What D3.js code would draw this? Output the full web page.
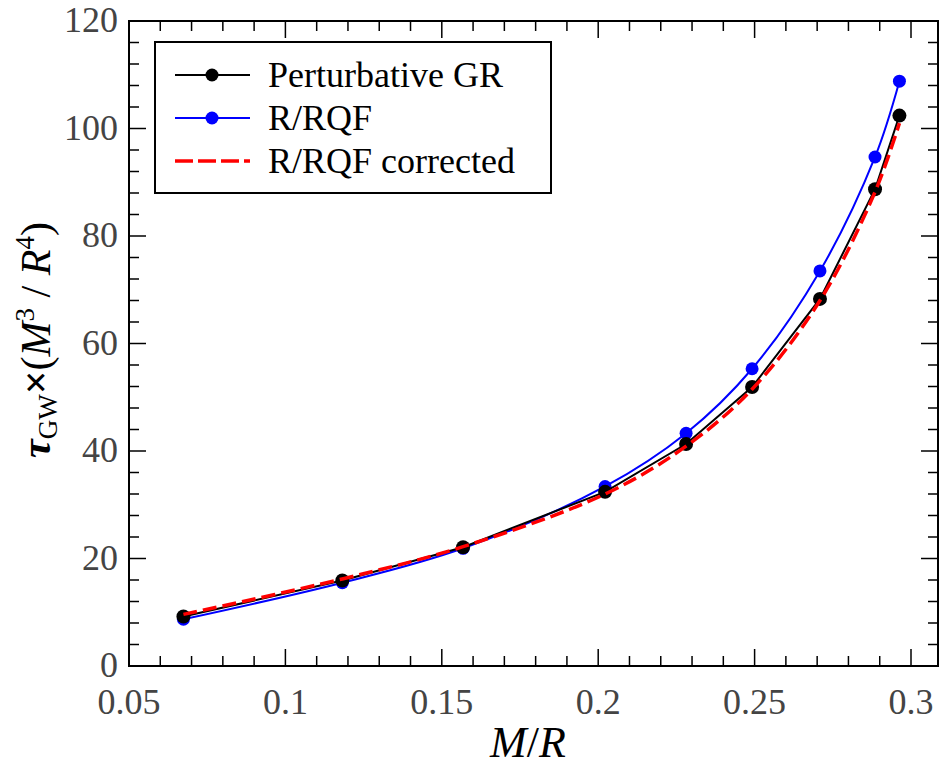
<!DOCTYPE html>
<html>
<head>
<meta charset="utf-8">
<script src="https://cdn.jsdelivr.net/npm/d3@7"></script>
<style>
  body { margin: 0; background: #fff; }
  svg text { font-family: "Liberation Serif", "DejaVu Serif", serif; }
</style>
</head>
<body>
<script>
// compactness M/R of the stellar models
var compactness = [0.0674, 0.1182, 0.1568, 0.2022, 0.2281, 0.2492, 0.2709, 0.2885, 0.2963];
// damping time scaled by M^3/R^4
var perturbativeGR = [9.2, 15.9, 22.1, 32.4, 41.3, 51.9, 68.3, 88.7, 102.4];
var rqf = [8.7, 15.5, 21.9, 33.4, 43.3, 55.3, 73.5, 94.7, 108.8];
var rqfCorrected = [9.6, 16.2, 22.2, 32.0, 40.9, 51.5, 68.0, 88.2, 101.0];

var xTicks = [0.05, 0.1, 0.15, 0.2, 0.25, 0.3];
var yTicks = [0, 20, 40, 60, 80, 100, 120];

var W = 940, H = 771;
var pLeft = 129, pRight = 938, pTop = 21, pBottom = 666;

var svg = d3.select("body").append("svg")
    .attr("width", W)
    .attr("height", H);

// scales
var x = d3.scaleLinear().domain([0.05, 0.3]).range([pLeft, 911]);
var y = d3.scaleLinear().domain([0, 120]).range([pBottom, pTop]);

// minor ticks
var xMinor = d3.range(0.06, 0.31, 0.01).filter(function (v) {
    return Math.abs(v * 20 - Math.round(v * 20)) > 1e-6 && x(v) < pRight;
});
var yMinor = d3.range(4, 120, 4).filter(function (v) { return v % 20 != 0; });

var ticks = svg.append("g").attr("stroke", "#000").attr("stroke-width", 1.5);

function tickLines(vals, len, isX) {
    vals.forEach(function (v) {
        if (isX) {
            var px = x(v);
            ticks.append("line").attr("x1", px).attr("x2", px).attr("y1", pBottom).attr("y2", pBottom - len);
            ticks.append("line").attr("x1", px).attr("x2", px).attr("y1", pTop).attr("y2", pTop + len);
        } else {
            var py = y(v);
            ticks.append("line").attr("y1", py).attr("y2", py).attr("x1", pLeft).attr("x2", pLeft + len);
            ticks.append("line").attr("y1", py).attr("y2", py).attr("x1", pRight).attr("x2", pRight - len);
        }
    });
}
tickLines(xTicks, 17, true);
tickLines(xMinor, 10, true);
tickLines(yTicks, 17, false);
tickLines(yMinor, 10, false);

// frame
svg.append("rect")
    .attr("x", pLeft).attr("y", pTop)
    .attr("width", pRight - pLeft).attr("height", pBottom - pTop)
    .attr("fill", "none").attr("stroke", "#000").attr("stroke-width", 2);

// tick labels
svg.append("g").selectAll("text")
    .data(xTicks)
    .enter().append("text")
    .attr("x", function (d) { return x(d); })
    .attr("y", 714)
    .attr("text-anchor", "middle")
    .attr("font-size", 36)
    .attr("fill", "#444")
    .text(function (d) { return d; });

svg.append("g").selectAll("text")
    .data(yTicks)
    .enter().append("text")
    .attr("x", 118)
    .attr("y", function (d) { return y(d) + 11; })
    .attr("text-anchor", "end")
    .attr("font-size", 36)
    .attr("fill", "#444")
    .text(function (d) { return d; });

// axis labels
var xl = svg.append("text")
    .attr("x", 528).attr("y", 757)
    .attr("text-anchor", "middle")
    .attr("font-size", 44)
    .attr("font-style", "italic");
xl.append("tspan").text("M");
xl.append("tspan").attr("font-style", "normal").text("/");
xl.append("tspan").text("R");

var yl = svg.append("text")
    .attr("transform", "translate(50,340) rotate(-90)")
    .attr("text-anchor", "middle")
    .attr("font-size", 42);
yl.append("tspan").attr("font-style", "italic").attr("font-weight", "bold").text("τ");
yl.append("tspan").attr("font-size", 27).attr("dy", 7).text("GW");
yl.append("tspan").attr("dy", -7).attr("font-weight", "bold").text("×");
yl.append("tspan").text("(");
yl.append("tspan").attr("font-style", "italic").text("M");
yl.append("tspan").attr("font-size", 27).attr("dy", -16).text("3");
yl.append("tspan").attr("dy", 16).text(" / ");
yl.append("tspan").attr("font-style", "italic").text("R");
yl.append("tspan").attr("font-size", 27).attr("dy", -16).text("4");
yl.append("tspan").attr("dy", 16).text(")");

// series
function pts(vals) {
    return compactness.map(function (c, i) { return [c, vals[i]]; });
}
var smooth = d3.line()
    .x(function (d) { return x(d[0]); })
    .y(function (d) { return y(d[1]); })
    .curve(d3.curveCatmullRom);
var straight = d3.line()
    .x(function (d) { return x(d[0]); })
    .y(function (d) { return y(d[1]); });

var plot = svg.append("g");

plot.append("path").datum(pts(rqf))
    .attr("d", smooth).attr("fill", "none")
    .attr("stroke", "#0000ff").attr("stroke-width", 2);
plot.selectAll(".blue").data(pts(rqf)).enter().append("circle")
    .attr("class", "blue")
    .attr("cx", function (d) { return x(d[0]); })
    .attr("cy", function (d) { return y(d[1]); })
    .attr("r", 6.5).attr("fill", "#0000ff");

plot.append("path").datum(pts(perturbativeGR))
    .attr("d", straight).attr("fill", "none")
    .attr("stroke", "#000").attr("stroke-width", 2);
plot.selectAll(".black").data(pts(perturbativeGR)).enter().append("circle")
    .attr("class", "black")
    .attr("cx", function (d) { return x(d[0]); })
    .attr("cy", function (d) { return y(d[1]); })
    .attr("r", 7).attr("fill", "#000");

plot.append("path").datum(pts(rqfCorrected))
    .attr("d", smooth).attr("fill", "none")
    .attr("stroke", "#ff0000").attr("stroke-width", 3.5)
    .attr("stroke-dasharray", "14,6");

// legend
var legend = svg.append("g");
legend.append("rect")
    .attr("x", 155).attr("y", 42).attr("width", 396).attr("height", 151)
    .attr("fill", "#fff").attr("stroke", "#000").attr("stroke-width", 2);

var entries = [
    { label: "Perturbative GR", color: "#000", dash: null, marker: true, w: 2 },
    { label: "R/RQF", color: "#0000ff", dash: null, marker: true, w: 2 },
    { label: "R/RQF corrected", color: "#ff0000", dash: "18,5", marker: false, w: 3.5 }
];
var rowY = [75, 118, 161];
entries.forEach(function (e, i) {
    var ly = rowY[i];
    legend.append("line")
        .attr("x1", 175).attr("x2", 250).attr("y1", ly).attr("y2", ly)
        .attr("stroke", e.color).attr("stroke-width", e.w)
        .attr("stroke-dasharray", e.dash);
    if (e.marker) {
        legend.append("circle").attr("cx", 212).attr("cy", ly).attr("r", 6.5).attr("fill", e.color);
    }
    legend.append("text")
        .attr("x", 268).attr("y", ly + 12)
        .attr("font-size", 36)
        .text(e.label);
});
</script>
</body>
</html>
